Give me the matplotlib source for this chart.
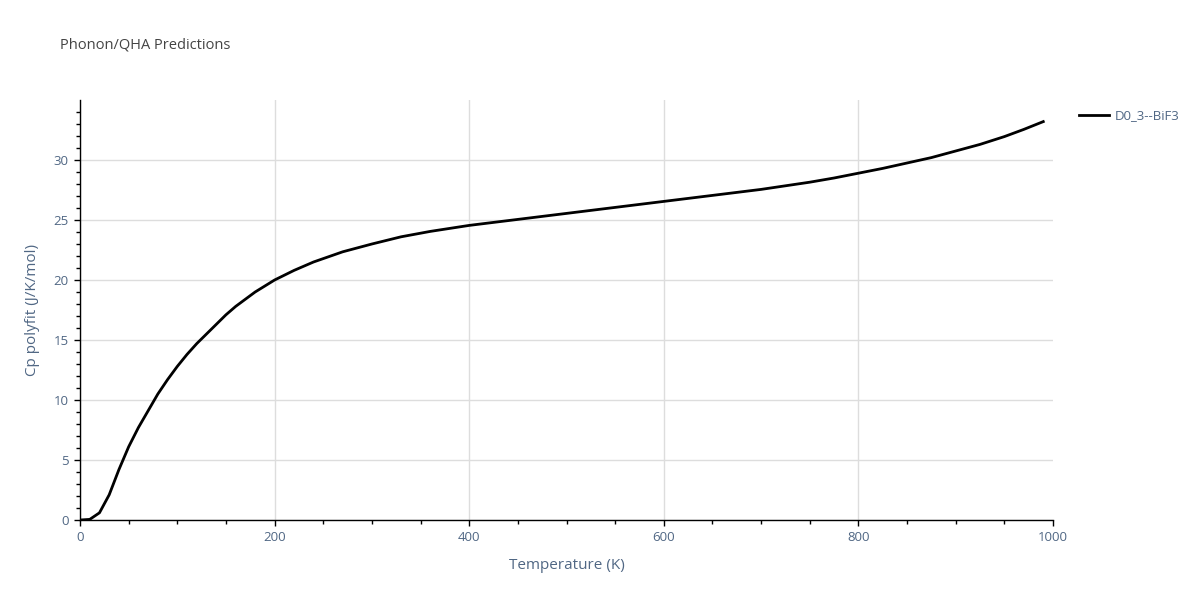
import matplotlib
matplotlib.use("Agg")
import matplotlib.pyplot as plt
from matplotlib.ticker import MultipleLocator, FixedLocator

plt.rcParams['font.family'] = ['Open Sans', 'DejaVu Sans']

temperature = [0, 10, 20, 30, 40, 50, 60, 70, 80, 90, 100, 110, 120, 130, 140,
               150, 160, 170, 180, 190, 200, 220, 240, 270, 300, 330, 360, 400,
               450, 500, 550, 600, 650, 700, 725, 750, 775, 800, 825, 850, 875,
               900, 925, 950, 970, 990]
cp_polyfit = [0.0, 0.05, 0.6, 2.1, 4.2, 6.1, 7.7, 9.1, 10.5, 11.7, 12.8, 13.8,
              14.7, 15.5, 16.3, 17.1, 17.8, 18.4, 19.0, 19.5, 20.0, 20.8, 21.5,
              22.35, 23.0, 23.6, 24.05, 24.55, 25.05, 25.55, 26.05, 26.55,
              27.05, 27.55, 27.85, 28.15, 28.5, 28.9, 29.3, 29.75, 30.2,
              30.75, 31.3, 31.95, 32.55, 33.2]
series_name = "D0_3--BiF3"
title_text = "Phonon/QHA Predictions"
x_label = "Temperature (K)"
y_label = "Cp polyfit (J/K/mol)"
x_ticks = [0, 200, 400, 600, 800, 1000]
y_ticks = [0, 5, 10, 15, 20, 25, 30]

text_color = "#506784"
title_color = "#444444"

fig = plt.figure(figsize=(12, 6), dpi=100)
ax = fig.add_axes([80/1200, 1 - 520/600, (1053 - 80)/1200, (520 - 100)/600])

ax.plot(temperature, cp_polyfit, color="black", linewidth=2, label=series_name)

ax.set_xlim(0, 1000)
ax.set_ylim(0, 35)
ax.xaxis.set_major_locator(FixedLocator(x_ticks))
ax.xaxis.set_minor_locator(MultipleLocator(50))
ax.yaxis.set_major_locator(FixedLocator(y_ticks))
ax.yaxis.set_minor_locator(FixedLocator([v for v in range(1, 35) if v % 5 != 0]))

ax.grid(True, which="major", color="#dddddd", linewidth=1)
ax.xaxis.get_gridlines()[-1].set_visible(False)
ax.set_axisbelow(True)
for s in ["top", "right"]:
    ax.spines[s].set_visible(False)
for s in ["left", "bottom"]:
    ax.spines[s].set_color("black")
    ax.spines[s].set_linewidth(1)

ax.tick_params(axis="both", which="major", direction="out", length=4, width=1,
               color="black", labelcolor=text_color, labelsize=9.5, pad=4)
ax.tick_params(axis="both", which="minor", direction="out", length=3, width=1,
               color="black")

ax.set_xlabel(x_label, fontsize=11, color=text_color, labelpad=10)
ax.set_ylabel(y_label, fontsize=11, color=text_color, labelpad=10)

fig.text(60/1200, 1 - 45/600, title_text, fontsize=10.5, color=title_color,
         va="center", ha="left")

leg = ax.legend(loc="upper left", bbox_to_anchor=(1.017, 1.0), frameon=False,
                fontsize=9.5, handlelength=2.3, handletextpad=0.4,
                borderaxespad=0.3)
for t in leg.get_texts():
    t.set_color(text_color)

fig.savefig("out.png", dpi=100)
